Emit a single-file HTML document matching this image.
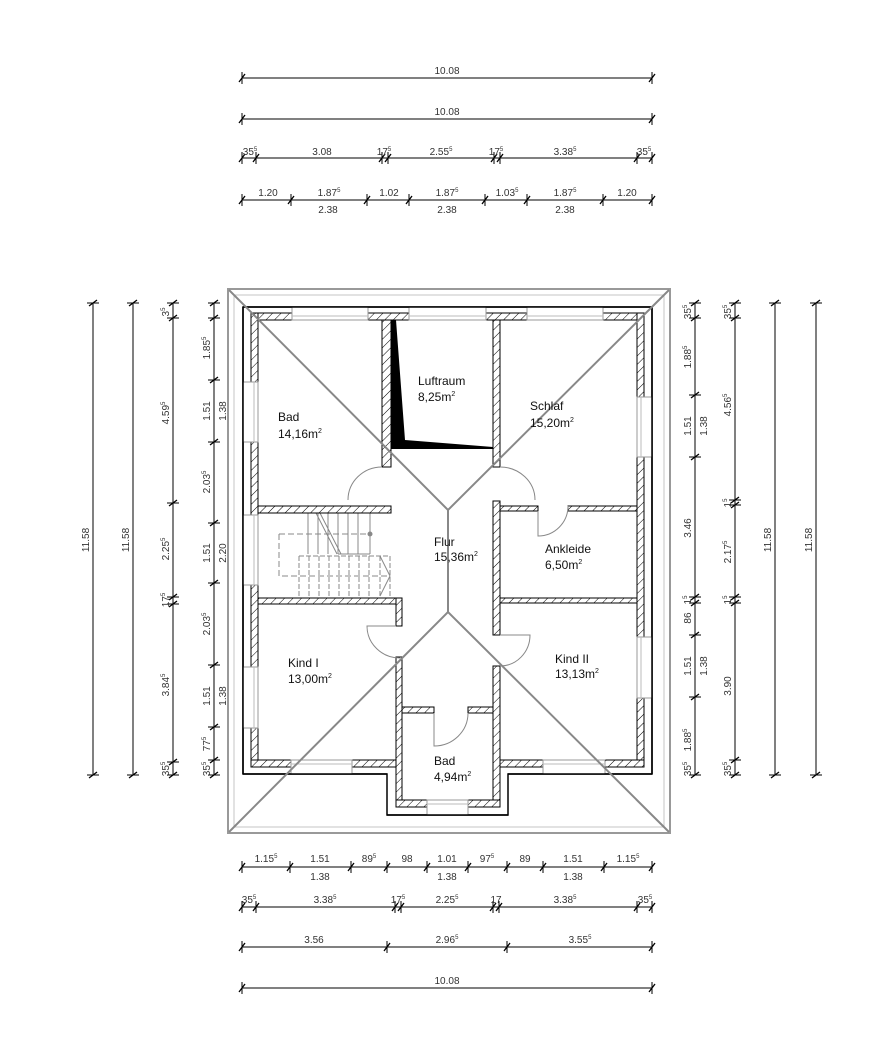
<!DOCTYPE html>
<html><head><meta charset="utf-8"><style>
html,body{margin:0;padding:0;background:#fff;}
svg{display:block;}
text{font-family:"Liberation Sans","DejaVu Sans",sans-serif;}
.d{font-size:10px;fill:#333;text-anchor:middle;}
.r{font-size:12px;fill:#111;}
.dl line,.dl path{stroke:#000;stroke-width:1;}
</style></head><body>
<svg width="878" height="1047" viewBox="0 0 878 1047" xmlns="http://www.w3.org/2000/svg">
<defs>
<pattern id="h" patternUnits="userSpaceOnUse" width="6" height="6" patternTransform="rotate(45)">
<rect width="6" height="6" fill="#fff"/><line x1="0" y1="0" x2="0" y2="6" stroke="#000" stroke-width="1"/>
</pattern>
<g id="th"><line x1="0" y1="-6" x2="0" y2="6" stroke="#000"/><line x1="-3" y1="4" x2="3" y2="-4" stroke="#000" stroke-width="1.3"/></g>
<g id="tv"><line x1="-6" y1="0" x2="6" y2="0" stroke="#000"/><line x1="-4" y1="3" x2="4" y2="-3" stroke="#000" stroke-width="1.3"/></g>
</defs>

<!-- TOP DIMENSIONS -->
<g class="dl">
<line x1="242" y1="78" x2="652" y2="78"/><line x1="242" y1="119" x2="652" y2="119"/>
<line x1="242" y1="158" x2="652" y2="158"/><line x1="242" y1="200" x2="652" y2="200"/>
</g>
<use href="#th" x="242" y="78"/><use href="#th" x="652" y="78"/>
<use href="#th" x="242" y="119"/><use href="#th" x="652" y="119"/>
<use href="#th" x="242" y="158"/><use href="#th" x="256" y="158"/><use href="#th" x="382" y="158"/><use href="#th" x="388" y="158"/><use href="#th" x="494" y="158"/><use href="#th" x="500" y="158"/><use href="#th" x="637" y="158"/><use href="#th" x="652" y="158"/>
<use href="#th" x="242" y="200"/><use href="#th" x="291" y="200"/><use href="#th" x="367" y="200"/><use href="#th" x="409" y="200"/><use href="#th" x="485" y="200"/><use href="#th" x="527" y="200"/><use href="#th" x="603" y="200"/><use href="#th" x="652" y="200"/>
<text class="d" x="447" y="74">10.08</text>
<text class="d" x="447" y="115">10.08</text>
<text class="d" x="250" y="155">35<tspan font-size="6" dy="-4">5</tspan></text>
<text class="d" x="322" y="155">3.08</text>
<text class="d" x="384" y="155">17<tspan font-size="6" dy="-4">5</tspan></text>
<text class="d" x="441" y="155">2.55<tspan font-size="6" dy="-4">5</tspan></text>
<text class="d" x="496" y="155">17<tspan font-size="6" dy="-4">5</tspan></text>
<text class="d" x="565" y="155">3.38<tspan font-size="6" dy="-4">5</tspan></text>
<text class="d" x="644" y="155">35<tspan font-size="6" dy="-4">5</tspan></text>
<text class="d" x="268" y="196">1.20</text>
<text class="d" x="329" y="196">1.87<tspan font-size="6" dy="-4">5</tspan></text>
<text class="d" x="389" y="196">1.02</text>
<text class="d" x="447" y="196">1.87<tspan font-size="6" dy="-4">5</tspan></text>
<text class="d" x="507" y="196">1.03<tspan font-size="6" dy="-4">5</tspan></text>
<text class="d" x="565" y="196">1.87<tspan font-size="6" dy="-4">5</tspan></text>
<text class="d" x="627" y="196">1.20</text>
<text class="d" x="328" y="213">2.38</text><text class="d" x="447" y="213">2.38</text><text class="d" x="565" y="213">2.38</text>

<!-- BOTTOM DIMENSIONS -->
<g class="dl">
<line x1="242" y1="867" x2="652" y2="867"/><line x1="242" y1="907" x2="652" y2="907"/>
<line x1="242" y1="947" x2="652" y2="947"/><line x1="242" y1="988" x2="652" y2="988"/>
</g>
<use href="#th" x="242" y="867"/><use href="#th" x="290" y="867"/><use href="#th" x="351" y="867"/><use href="#th" x="387" y="867"/><use href="#th" x="427" y="867"/><use href="#th" x="468" y="867"/><use href="#th" x="507" y="867"/><use href="#th" x="543" y="867"/><use href="#th" x="604" y="867"/><use href="#th" x="652" y="867"/>
<use href="#th" x="242" y="907"/><use href="#th" x="256" y="907"/><use href="#th" x="395" y="907"/><use href="#th" x="401" y="907"/><use href="#th" x="493" y="907"/><use href="#th" x="499" y="907"/><use href="#th" x="637" y="907"/><use href="#th" x="652" y="907"/>
<use href="#th" x="242" y="947"/><use href="#th" x="387" y="947"/><use href="#th" x="507" y="947"/><use href="#th" x="652" y="947"/>
<use href="#th" x="242" y="988"/><use href="#th" x="652" y="988"/>
<text class="d" x="266" y="862">1.15<tspan font-size="6" dy="-4">5</tspan></text>
<text class="d" x="320" y="862">1.51</text>
<text class="d" x="369" y="862">89<tspan font-size="6" dy="-4">5</tspan></text>
<text class="d" x="407" y="862">98</text>
<text class="d" x="447" y="862">1.01</text>
<text class="d" x="487" y="862">97<tspan font-size="6" dy="-4">5</tspan></text>
<text class="d" x="525" y="862">89</text>
<text class="d" x="573" y="862">1.51</text>
<text class="d" x="628" y="862">1.15<tspan font-size="6" dy="-4">5</tspan></text>
<text class="d" x="320" y="880">1.38</text><text class="d" x="447" y="880">1.38</text><text class="d" x="573" y="880">1.38</text>
<text class="d" x="249" y="903">35<tspan font-size="6" dy="-4">5</tspan></text>
<text class="d" x="325" y="903">3.38<tspan font-size="6" dy="-4">5</tspan></text>
<text class="d" x="398" y="903">17<tspan font-size="6" dy="-4">5</tspan></text>
<text class="d" x="447" y="903">2.25<tspan font-size="6" dy="-4">5</tspan></text>
<text class="d" x="496" y="903">17</text>
<text class="d" x="565" y="903">3.38<tspan font-size="6" dy="-4">5</tspan></text>
<text class="d" x="645" y="903">35<tspan font-size="6" dy="-4">5</tspan></text>
<text class="d" x="314" y="943">3.56</text>
<text class="d" x="447" y="943">2.96<tspan font-size="6" dy="-4">5</tspan></text>
<text class="d" x="580" y="943">3.55<tspan font-size="6" dy="-4">5</tspan></text>
<text class="d" x="447" y="984">10.08</text>

<!-- LEFT DIMENSIONS -->
<g class="dl">
<line x1="93" y1="303" x2="93" y2="775"/><line x1="133" y1="303" x2="133" y2="775"/>
<line x1="173" y1="303" x2="173" y2="775"/><line x1="214" y1="303" x2="214" y2="775"/>
</g>
<use href="#tv" x="93" y="303"/><use href="#tv" x="93" y="775"/><use href="#tv" x="133" y="303"/><use href="#tv" x="133" y="775"/>
<use href="#tv" x="173" y="303"/><use href="#tv" x="173" y="318"/><use href="#tv" x="173" y="503"/><use href="#tv" x="173" y="597"/><use href="#tv" x="173" y="604"/><use href="#tv" x="173" y="762"/><use href="#tv" x="173" y="775"/>
<use href="#tv" x="214" y="303"/><use href="#tv" x="214" y="318"/><use href="#tv" x="214" y="380"/><use href="#tv" x="214" y="442"/><use href="#tv" x="214" y="523"/><use href="#tv" x="214" y="583"/><use href="#tv" x="214" y="665"/><use href="#tv" x="214" y="727"/><use href="#tv" x="214" y="760"/><use href="#tv" x="214" y="775"/>
<g class="d">
<text transform="translate(89,540) rotate(-90)">11.58</text>
<text transform="translate(129,540) rotate(-90)">11.58</text>
<text transform="translate(169,312) rotate(-90)">3<tspan font-size="6" dy="-4">5</tspan></text>
<text transform="translate(169,413) rotate(-90)">4.59<tspan font-size="6" dy="-4">5</tspan></text>
<text transform="translate(169,549) rotate(-90)">2.25<tspan font-size="6" dy="-4">5</tspan></text>
<text transform="translate(169,600) rotate(-90)">17<tspan font-size="6" dy="-4">5</tspan></text>
<text transform="translate(169,685) rotate(-90)">3.84<tspan font-size="6" dy="-4">5</tspan></text>
<text transform="translate(169,769) rotate(-90)">35<tspan font-size="6" dy="-4">5</tspan></text>
<text transform="translate(210,348) rotate(-90)">1.85<tspan font-size="6" dy="-4">5</tspan></text>
<text transform="translate(210,411) rotate(-90)">1.51</text>
<text transform="translate(226,411) rotate(-90)">1.38</text>
<text transform="translate(210,482) rotate(-90)">2.03<tspan font-size="6" dy="-4">5</tspan></text>
<text transform="translate(210,553) rotate(-90)">1.51</text>
<text transform="translate(226,553) rotate(-90)">2.20</text>
<text transform="translate(210,624) rotate(-90)">2.03<tspan font-size="6" dy="-4">5</tspan></text>
<text transform="translate(210,696) rotate(-90)">1.51</text>
<text transform="translate(226,696) rotate(-90)">1.38</text>
<text transform="translate(210,744) rotate(-90)">77<tspan font-size="6" dy="-4">5</tspan></text>
<text transform="translate(210,769) rotate(-90)">35<tspan font-size="6" dy="-4">5</tspan></text>
</g>

<!-- RIGHT DIMENSIONS -->
<g class="dl">
<line x1="695" y1="303" x2="695" y2="775"/><line x1="735" y1="303" x2="735" y2="775"/>
<line x1="775" y1="303" x2="775" y2="775"/><line x1="816" y1="303" x2="816" y2="775"/>
</g>
<use href="#tv" x="695" y="303"/><use href="#tv" x="695" y="318"/><use href="#tv" x="695" y="395"/><use href="#tv" x="695" y="457"/><use href="#tv" x="695" y="597"/><use href="#tv" x="695" y="603"/><use href="#tv" x="695" y="635"/><use href="#tv" x="695" y="697"/><use href="#tv" x="695" y="775"/>
<use href="#tv" x="735" y="303"/><use href="#tv" x="735" y="318"/><use href="#tv" x="735" y="500"/><use href="#tv" x="735" y="505"/><use href="#tv" x="735" y="597"/><use href="#tv" x="735" y="603"/><use href="#tv" x="735" y="760"/><use href="#tv" x="735" y="775"/>
<use href="#tv" x="775" y="303"/><use href="#tv" x="775" y="775"/><use href="#tv" x="816" y="303"/><use href="#tv" x="816" y="775"/>
<g class="d">
<text transform="translate(691,312) rotate(-90)">35<tspan font-size="6" dy="-4">5</tspan></text>
<text transform="translate(691,357) rotate(-90)">1.88<tspan font-size="6" dy="-4">5</tspan></text>
<text transform="translate(691,426) rotate(-90)">1.51</text>
<text transform="translate(707,426) rotate(-90)">1.38</text>
<text transform="translate(691,528) rotate(-90)">3.46</text>
<text transform="translate(691,600) rotate(-90)">1<tspan font-size="6" dy="-4">5</tspan></text>
<text transform="translate(691,618) rotate(-90)">86</text>
<text transform="translate(691,666) rotate(-90)">1.51</text>
<text transform="translate(707,666) rotate(-90)">1.38</text>
<text transform="translate(691,740) rotate(-90)">1.88<tspan font-size="6" dy="-4">5</tspan></text>
<text transform="translate(691,769) rotate(-90)">35<tspan font-size="6" dy="-4">5</tspan></text>
<text transform="translate(731,312) rotate(-90)">35<tspan font-size="6" dy="-4">5</tspan></text>
<text transform="translate(731,405) rotate(-90)">4.56<tspan font-size="6" dy="-4">5</tspan></text>
<text transform="translate(731,503) rotate(-90)">1<tspan font-size="6" dy="-4">5</tspan></text>
<text transform="translate(731,552) rotate(-90)">2.17<tspan font-size="6" dy="-4">5</tspan></text>
<text transform="translate(731,600) rotate(-90)">1<tspan font-size="6" dy="-4">5</tspan></text>
<text transform="translate(731,686) rotate(-90)">3.90</text>
<text transform="translate(731,769) rotate(-90)">35<tspan font-size="6" dy="-4">5</tspan></text>
<text transform="translate(771,540) rotate(-90)">11.58</text>
<text transform="translate(812,540) rotate(-90)">11.58</text>
</g>

<!-- EAVE -->
<rect x="228" y="289" width="442" height="544" fill="none" stroke="#999" stroke-width="2"/>
<rect x="234" y="295" width="430" height="532" fill="none" stroke="#c4c4c4" stroke-width="1"/>

<!-- building outer line -->
<path d="M243,307 H652 V774 H508 V815 H387 V774 H243 Z" fill="#fff" stroke="#000" stroke-width="1.5"/>

<!-- stairs -->
<g stroke="#888" fill="none" stroke-width="1">
<path d="M308,513 V554 M318,513 V554 M328,513 V554 M338,513 V554 M348,513 V554 M358,513 V554 M370,513 V554 M338,554 H370"/>
<path d="M316,513 L337,554 M320,513 L341,554"/>
<path d="M279,534 H370 M279,534 V576 H390" stroke-dasharray="6,3"/>
<circle cx="370" cy="534" r="2" fill="#888"/>
<path d="M299,556 H390 V596 M299,556 V596 M309,556 V596 M319,556 V596 M329,556 V596 M339,556 V596 M349,556 V596 M359,556 V596 M369,556 V596 M380,556 V596" stroke-dasharray="5,2"/>
<path d="M380,556 L390,576 L380,596"/>
</g>

<!-- walls -->
<g fill="url(#h)" stroke="#000" stroke-width="1">
<rect x="251" y="313" width="393" height="7"/>
<rect x="251" y="313" width="7" height="454"/>
<rect x="637" y="313" width="7" height="454"/>
<rect x="251" y="760" width="151" height="7"/>
<rect x="493" y="760" width="151" height="7"/>
<rect x="396" y="657" width="6" height="150"/>
<rect x="493" y="666" width="7" height="141"/>
<rect x="396" y="800" width="104" height="7"/>
<rect x="382" y="320" width="9" height="147"/>
<rect x="493" y="320" width="7" height="147"/>
<rect x="258" y="506" width="133" height="7"/>
<rect x="258" y="598" width="144" height="6"/>
<rect x="396" y="598" width="6" height="28"/>
<rect x="493" y="501" width="7" height="134"/>
<rect x="500" y="506" width="38" height="5"/>
<rect x="568" y="506" width="69" height="5"/>
<rect x="500" y="598" width="137" height="5"/>
<rect x="402" y="707" width="32" height="6"/>
<rect x="468" y="707" width="25" height="6"/>
</g>

<!-- windows -->
<g fill="#fff" stroke="#999" stroke-width="1">
<rect x="292" y="307" width="76" height="13"/><rect x="409" y="307" width="77" height="13"/><rect x="527" y="307" width="76" height="13"/>
<rect x="243" y="382" width="15" height="60"/><rect x="243" y="515" width="15" height="70"/><rect x="243" y="667" width="15" height="61"/>
<rect x="637" y="397" width="15" height="60"/><rect x="637" y="637" width="15" height="61"/>
<rect x="291" y="760" width="61" height="14"/><rect x="543" y="760" width="62" height="14"/>
<rect x="427" y="800" width="41" height="15"/>
</g>
<g stroke="#bbb" stroke-width="1">
<path d="M292,316 H368 M409,316 H486 M527,316 H603 M254,382 V442 M254,515 V585 M254,667 V728 M641,397 V457 M641,637 V698 M291,764 H352 M543,764 H605 M427,804 H468"/>
</g>
<g stroke="#000" stroke-width="1.5"><path d="M243,307 H652 M243,307 V774 M652,307 V774 M243,774 H387 M508,774 H652 M387,815 H508"/></g>

<!-- luftraum black -->
<polygon points="391,320 396,320 405,440 493,447 493,449 391,449" fill="#000"/>

<!-- doors -->
<g stroke="#888" fill="none" stroke-width="1">
<path d="M348,500 A34,33 0 0 1 382,467"/>
<path d="M500,467 A35,33 0 0 1 535,500"/>
<path d="M538,511 V536 A30,30 0 0 0 568,506"/>
<path d="M396,626 H367 A33,32 0 0 0 400,658"/>
<path d="M500,635 H530 A30,31 0 0 1 500,666"/>
<path d="M434,713 V746 A34,33 0 0 0 468,713"/>
</g>

<!-- roof hips -->
<g stroke="#888" stroke-width="2" fill="none">
<path d="M229,290 L448,510 L669,290 M448,510 V612 M229,832 L448,612 L669,832"/>
</g>

<!-- room labels -->
<g class="r">
<text x="418" y="385">Luftraum</text><text x="418" y="401">8,25m<tspan font-size="7" dy="-5">2</tspan></text>
<text x="278" y="421">Bad</text><text x="278" y="438">14,16m<tspan font-size="7" dy="-5">2</tspan></text>
<text x="530" y="410">Schlaf</text><text x="530" y="427">15,20m<tspan font-size="7" dy="-5">2</tspan></text>
<text x="434" y="546">Flur</text><text x="434" y="561">15,36m<tspan font-size="7" dy="-5">2</tspan></text>
<text x="545" y="553">Ankleide</text><text x="545" y="569">6,50m<tspan font-size="7" dy="-5">2</tspan></text>
<text x="288" y="667">Kind  I</text><text x="288" y="683">13,00m<tspan font-size="7" dy="-5">2</tspan></text>
<text x="555" y="663">Kind  II</text><text x="555" y="678">13,13m<tspan font-size="7" dy="-5">2</tspan></text>
<text x="434" y="765">Bad</text><text x="434" y="781">4,94m<tspan font-size="7" dy="-5">2</tspan></text>
</g>
</svg>
</body></html>
